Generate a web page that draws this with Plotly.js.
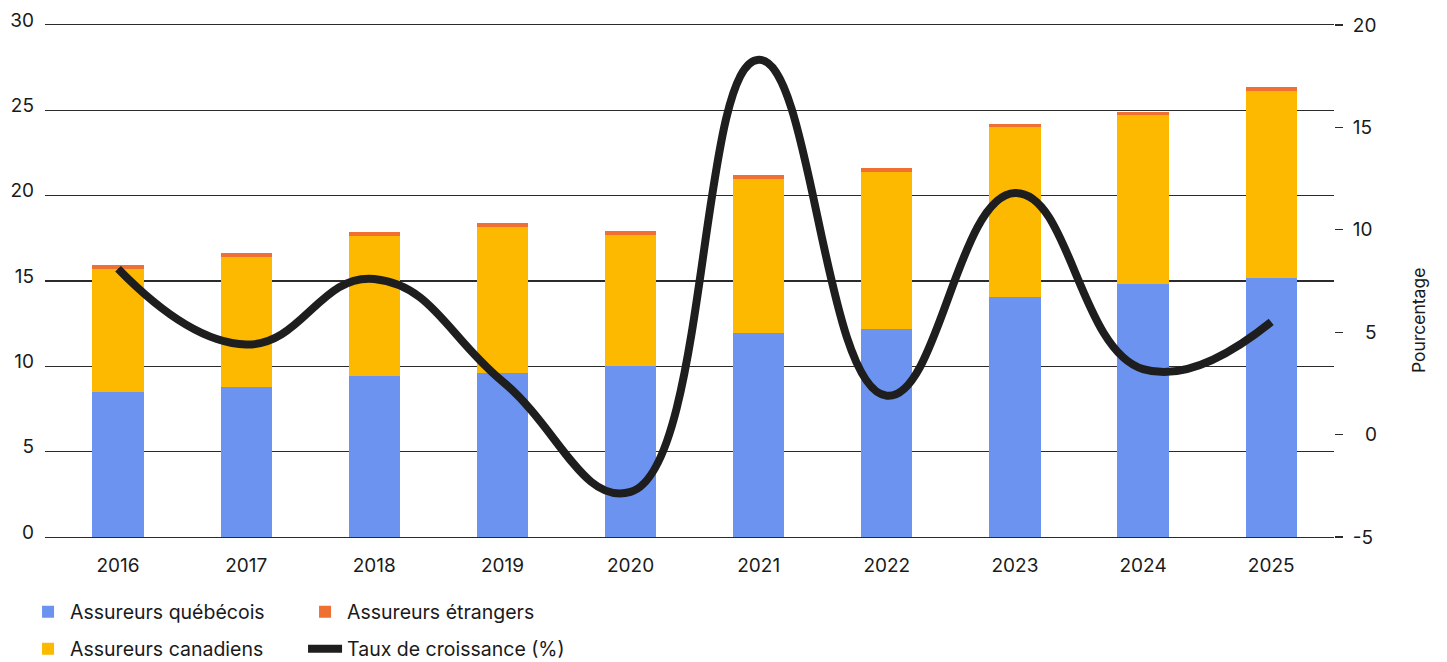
<!DOCTYPE html>
<html>
<head>
<meta charset="utf-8">
<script src="https://cdn.plot.ly/plotly-3.0.1.min.js"></script>
<style>
  html, body { margin: 0; padding: 0; background: #ffffff; }
  #chart { width: 1447px; height: 662px; }
</style>
</head>
<body>
<div id="chart"></div>
<script>
// Années
const years = ['2016', '2017', '2018', '2019', '2020', '2021', '2022', '2023', '2024', '2025'];

// Volumes par groupe d'assureurs (axe de gauche)
const assureursQuebecois = [8.5, 8.8, 9.45, 9.6, 10.0, 11.95, 12.2, 14.05, 14.8, 15.2];
const assureursCanadiens = [7.2, 7.6, 8.2, 8.55, 7.7, 9.0, 9.2, 9.95, 9.95, 10.95];
const assureursEtrangers = [0.23, 0.22, 0.24, 0.22, 0.22, 0.27, 0.22, 0.22, 0.18, 0.23];

// Taux de croissance en % (axe de droite)
const tauxCroissance = [8.1, 4.4, 7.6, 2.6, -2.8, 18.3, 1.9, 11.8, 3.2, 5.5];

// Graduations
const leftTicks = [0, 5, 10, 15, 20, 25, 30];
const rightTicks = [-5, 0, 5, 10, 15, 20];

const FONT = 'Inter, "Liberation Sans", Arial, sans-serif';
const INK = '#1a1a1a';
const GRID = '#2b2b2b';

// pad single-digit labels with a figure space so the right axis reads right-aligned
const rightTickText = rightTicks.map(v => (String(v).length === 1 ? '\u2007' : '') + String(v));

const traces = [
  {
    type: 'bar', name: 'Assureurs québécois', x: years, y: assureursQuebecois,
    marker: { color: '#6b93ef' }, width: 0.4, legend: 'legend', legendrank: 1,
    hoverinfo: 'skip'
  },
  {
    type: 'bar', name: 'Assureurs canadiens', x: years, y: assureursCanadiens,
    marker: { color: '#fdb900' }, width: 0.4, legend: 'legend2', legendrank: 1,
    hoverinfo: 'skip'
  },
  {
    type: 'bar', name: 'Assureurs étrangers', x: years, y: assureursEtrangers,
    marker: { color: '#ee7032' }, width: 0.4, legend: 'legend', legendrank: 2,
    hoverinfo: 'skip'
  },
  {
    type: 'scatter', mode: 'lines', name: 'Taux de croissance (%)', x: years, y: tauxCroissance,
    yaxis: 'y2', line: { color: '#1e1e1e', width: 8, shape: 'spline', smoothing: 1.3 },
    legend: 'legend2', legendrank: 2, hoverinfo: 'skip'
  }
];

const last = tauxCroissance.length - 1;

const legendBase = {
  orientation: 'h', xref: 'container', yref: 'container',
  x: 0.018, xanchor: 'left', yanchor: 'middle',
  traceorder: 'normal', itemwidth: 34,
  entrywidth: 228, entrywidthmode: 'pixels',
  font: { family: FONT, size: 19.5, color: INK }, bgcolor: 'rgba(0,0,0,0)'
};

const layout = {
  width: 1447, height: 662,
  margin: { l: 45, r: 113, t: 25, b: 125 },
  paper_bgcolor: '#ffffff', plot_bgcolor: '#ffffff',
  font: { family: FONT, size: 19, color: INK },
  barmode: 'stack',
  showlegend: true,
  xaxis: {
    type: 'category', range: [-0.57, 9.49],
    showgrid: false, zeroline: false,
    showline: true, mirror: true, linecolor: GRID, linewidth: 1.2,
    ticks: '',
    tickfont: { family: FONT, size: 19, color: INK },
    ticklabelstandoff: 11, fixedrange: true
  },
  yaxis: {
    range: [0, 30], tickvals: leftTicks,
    showgrid: true, gridcolor: GRID, gridwidth: 1.2,
    zeroline: false, showline: false, ticks: '',
    tickfont: { family: FONT, size: 19, color: INK },
    ticklabelstandoff: 10, ticklabelshift: -5, fixedrange: true
  },
  yaxis2: {
    overlaying: 'y', side: 'right', range: [-5, 20],
    tickvals: rightTicks, ticktext: rightTickText,
    showgrid: false, zeroline: false, showline: false,
    ticks: 'outside', ticklen: 8, tickwidth: 1.2, tickcolor: GRID,
    tickfont: { family: FONT, size: 19, color: INK },
    ticklabelstandoff: 6, fixedrange: true
  },
  legend: Object.assign({}, legendBase, { y: 1 - 612 / 662 }),
  legend2: Object.assign({}, legendBase, { y: 1 - 649 / 662 }),
  annotations: [
    {
      // valeur du dernier point de la courbe
      x: years[last], y: tauxCroissance[last], xref: 'x', yref: 'y2',
      text: tauxCroissance[last].toFixed(1).replace('.', ','),
      showarrow: false, yshift: 17,
      font: { family: FONT, size: 19, color: INK }
    },
    {
      text: 'Pourcentage', xref: 'paper', yref: 'paper',
      x: 1.0, xshift: 84, y: 1 - (321 - 25) / 512, yanchor: 'middle', xanchor: 'center',
      textangle: -90, showarrow: false,
      font: { family: FONT, size: 17.5, color: INK }
    }
  ]
};

Plotly.newPlot('chart', traces, layout, { displayModeBar: false, staticPlot: true });
</script>
</body>
</html>
